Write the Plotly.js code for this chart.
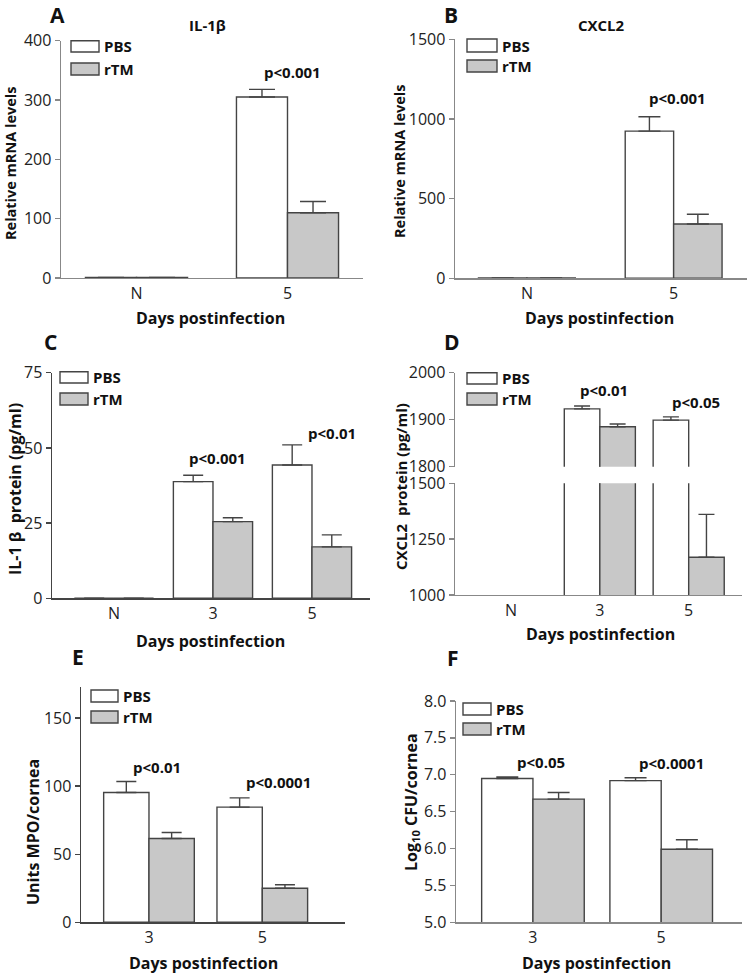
<!DOCTYPE html>
<html><head><meta charset="utf-8">
<script src="https://cdn.plot.ly/plotly-3.0.1.min.js"></script>
<style>html,body{margin:0;padding:0;background:#fff}#chart{width:747px;height:973px}</style>
</head><body><div id="chart"></div>
<script>
// ---------- DATA ----------
const seriesNames = ["PBS", "rTM"];
// A: IL-1beta mRNA
const catsA = ["N", "5"];
const pbsA = [1, 305];   const pbsAerr = [0, 13];
const rtmA = [1, 110];   const rtmAerr = [0, 19];
// B: CXCL2 mRNA
const catsB = ["N", "5"];
const pbsB = [2, 924];   const pbsBerr = [0, 90];
const rtmB = [2, 341];   const rtmBerr = [0, 61];
// C: IL-1beta protein
const catsC = ["N", "3", "5"];
const pbsC = [0, 38.8, 44.3]; const pbsCerr = [0, 2.1, 6.7];
const rtmC = [0, 25.5, 17.1]; const rtmCerr = [0, 1.3, 4.0];
// D: CXCL2 protein (broken axis)
const catsD = ["N", "3", "5"];
const pbsD = [0, 1923, 1899]; const pbsDerr = [0, 6, 7];
const rtmD = [0, 1885, 1169]; const rtmDerr = [0, 6, 192];
// E: MPO
const catsE = ["3", "5"];
const pbsE = [95.3, 84.6]; const pbsEerr = [8.1, 6.8];
const rtmE = [61.5, 25.0]; const rtmEerr = [4.4, 2.6];
// F: CFU
const catsF = ["3", "5"];
const pbsF = [6.95, 6.92]; const pbsFerr = [0.02, 0.04];
const rtmF = [6.67, 5.99]; const rtmFerr = [0.09, 0.13];
// tick labels
const ticksA = [0, 100, 200, 300, 400];
const ticksB = [0, 500, 1000, 1500];
const ticksC = [0, 25, 50, 75];
const ticksDup = [1800, 1900, 2000];
const ticksDlo = [1000, 1250, 1500];
const ticksE = [0, 50, 100, 150];
const ticksF = [5.0, 5.5, 6.0, 6.5, 7.0, 7.5, 8.0];
const pLabels = {A: ["p<0.001"], B: ["p<0.001"], C: ["p<0.001", "p<0.01"], D: ["p<0.01", "p<0.05"], E: ["p<0.01", "p<0.0001"], F: ["p<0.05", "p<0.0001"]};

// ---------- LAYOUT HELPERS ----------
const W = 747, H = 973;
const fx = p => p / W;
const fy = p => 1 - p / H;
const dX = (a, b) => [fx(a), fx(b)];
const dY = (top, bot) => [fy(bot), fy(top)];
const FONT = "Open Sans, DejaVu Sans, sans-serif";
const LINE = "#444";
const FILL = ["#ffffff", "#c8c8c8"];

const traces = [];
function addPair(cats, vals, errs, xa, ya, w, cap) {
  for (let i = 0; i < 2; i++) {
    traces.push({
      type: "bar", x: cats, y: vals[i], xaxis: xa, yaxis: ya, name: seriesNames[i],
      width: w, offset: i === 0 ? -w : 0, showlegend: false, hoverinfo: "skip",
      marker: {color: FILL[i], line: {color: LINE, width: 1.4}},
      error_y: {type: "data", symmetric: false, array: errs[i], arrayminus: errs[i].map(() => 0),
                color: LINE, thickness: 1.4, width: cap}
    });
  }
}
addPair(catsA, [pbsA, rtmA], [pbsAerr, rtmAerr], "x", "y", 0.338, 13);
addPair(catsB, [pbsB, rtmB], [pbsBerr, rtmBerr], "x2", "y2", 0.33, 11);
addPair(catsC, [pbsC, rtmC], [pbsCerr, rtmCerr], "x3", "y3", 0.40, 10);
addPair(catsD, [pbsD, rtmD], [pbsDerr, rtmDerr], "x4", "y4", 0.40, 8);
addPair(catsD, [pbsD, rtmD], [pbsDerr, rtmDerr], "x4", "y5", 0.40, 8);
addPair(catsE, [pbsE, rtmE], [pbsEerr, rtmEerr], "x5", "y6", 0.40, 10);
addPair(catsF, [pbsF, rtmF], [pbsFerr, rtmFerr], "x6", "y7", 0.40, 11);

function xax(dom, range, anchor, lc) {
  return {domain: dom, range: range, anchor: anchor, type: "category", showline: true, linecolor: lc,
          linewidth: 1.4, ticks: "", showgrid: false, zeroline: false, fixedrange: true,
          tickfont: {family: FONT, size: 16, color: "#222"}};
}
function yax(dom, range, anchor, tv, lc, fmt) {
  return {domain: dom, range: range, anchor: anchor, showline: true, linecolor: lc, linewidth: 1.4,
          ticks: "outside", ticklen: 5, tickwidth: 1.4, tickcolor: lc, tickvals: tv,
          tickformat: fmt || "", showgrid: false, zeroline: false, fixedrange: true,
          tickfont: {family: FONT, size: 16, color: "#222"}};
}
const GRAY = "#888", DARK = "#444";

const layout = {
  width: W, height: H, margin: {l: 0, r: 0, t: 0, b: 0}, paper_bgcolor: "#fff", plot_bgcolor: "rgba(0,0,0,0)",
  barmode: "group", showlegend: false, font: {family: FONT, color: "#111"},
  xaxis: xax(dX(61, 363), [-0.5, 1.5], "y", GRAY),
  yaxis: yax(dY(40.7, 278), [0, 400], "x", ticksA, GRAY),
  xaxis2: xax(dX(455, 747), [-0.49, 1.5], "y2", GRAY),
  yaxis2: yax(dY(39.3, 278.3), [0, 1500], "x2", ticksB, GRAY),
  xaxis3: xax(dX(52, 370), [-0.626, 2.586], "y3", DARK),
  yaxis3: yax(dY(372.7, 598.3), [0, 75], "x3", ticksC, DARK),
  xaxis4: xax(dX(455, 742), [-0.63, 2.6], "y4", GRAY),
  yaxis4: yax(dY(483.3, 595), [1000, 1500], "x4", ticksDlo, GRAY),
  yaxis5: yax(dY(372.7, 466.7), [1800, 2000], "x4", ticksDup, GRAY),
  xaxis5: xax(dX(81, 345), [-0.6, 1.73], "y6", DARK),
  yaxis6: yax(dY(686.7, 922.3), [0, 173], "x5", ticksE, DARK),
  xaxis6: xax(dX(456, 742), [-0.6, 1.63], "y7", GRAY),
  yaxis7: yax(dY(701, 922.3), [5, 8], "x6", ticksF, GRAY, ".1f"),
  annotations: [], shapes: []
};

function txt(x, y, text, size, bold, angle, anchor) {
  layout.annotations.push({xref: "paper", yref: "paper", x: fx(x), y: fy(y), text: bold ? "<b>" + text + "</b>" : text,
    showarrow: false, xanchor: anchor || "center", yanchor: "middle", textangle: angle || 0,
    font: {family: FONT, size: size, color: "#111"}});
}
function legend(x0, x1, yP0, yP1, yR0, yR1) {
  layout.shapes.push({type: "rect", xref: "paper", yref: "paper", x0: fx(x0), x1: fx(x1), y0: fy(yP1), y1: fy(yP0),
    fillcolor: FILL[0], line: {color: LINE, width: 1.4}});
  layout.shapes.push({type: "rect", xref: "paper", yref: "paper", x0: fx(x0), x1: fx(x1), y0: fy(yR1), y1: fy(yR0),
    fillcolor: FILL[1], line: {color: LINE, width: 1.4}});
  txt(x1 + 3, (yP0 + yP1) / 2, seriesNames[0], 15, true, 0, "left");
  txt(x1 + 3, (yR0 + yR1) / 2, seriesNames[1], 15, true, 0, "left");
}

// Panel A
txt(57, 15, "A", 21, true);
txt(207, 25, "IL-1β", 15, true);
txt(10, 164, "Relative mRNA levels", 14.5, true, -90);
txt(210, 318, "Days postinfection", 16, true);
txt(292, 72, pLabels.A[0], 15, true);
legend(71, 99, 40.7, 52, 63, 75);
// Panel B
txt(451, 15, "B", 21, true);
txt(601, 25, "CXCL2", 15, true);
txt(399, 162, "Relative mRNA levels", 14.5, true, -90);
txt(599, 318, "Days postinfection", 16, true);
txt(677, 98, pLabels.B[0], 15, true);
legend(467, 497, 39, 52, 60, 72);
// Panel C
txt(50, 342, "C", 21, true);
txt(15, 489, "IL-1 β  protein (pg/ml)", 16, true, -90);
txt(210, 641, "Days postinfection", 16, true);
txt(217, 458, pLabels.C[0], 15, true);
txt(332, 433, pLabels.C[1], 15, true);
legend(60, 88, 371.7, 383, 393, 405);
// Panel D
txt(452, 342, "D", 21, true);
txt(401, 487, "CXCL2  protein (pg/ml)", 15, true, -90);
txt(600, 634, "Days postinfection", 16, true);
txt(604, 390, pLabels.D[0], 15, true);
txt(696, 402, pLabels.D[1], 15, true);
legend(467, 497, 372.7, 384, 393, 405);
// Panel E
txt(78, 657, "E", 21, true);
txt(33, 832, "Units MPO/cornea", 16, true, -90);
txt(203, 963, "Days postinfection", 16, true);
txt(157, 767, pLabels.E[0], 15, true);
txt(278, 782, pLabels.E[1], 15, true);
legend(91, 118, 690, 702, 711, 723);
// Panel F
txt(453, 658, "F", 21, true);
txt(411, 802, "Log<sub>10</sub> CFU/cornea", 16, true, -90);
txt(596, 963, "Days postinfection", 16, true);
txt(541, 762, pLabels.F[0], 15, true);
txt(671, 763, pLabels.F[1], 15, true);
legend(463, 491, 703, 715, 723, 735);

Plotly.newPlot("chart", traces, layout, {staticPlot: true, displayModeBar: false});
</script></body></html>
